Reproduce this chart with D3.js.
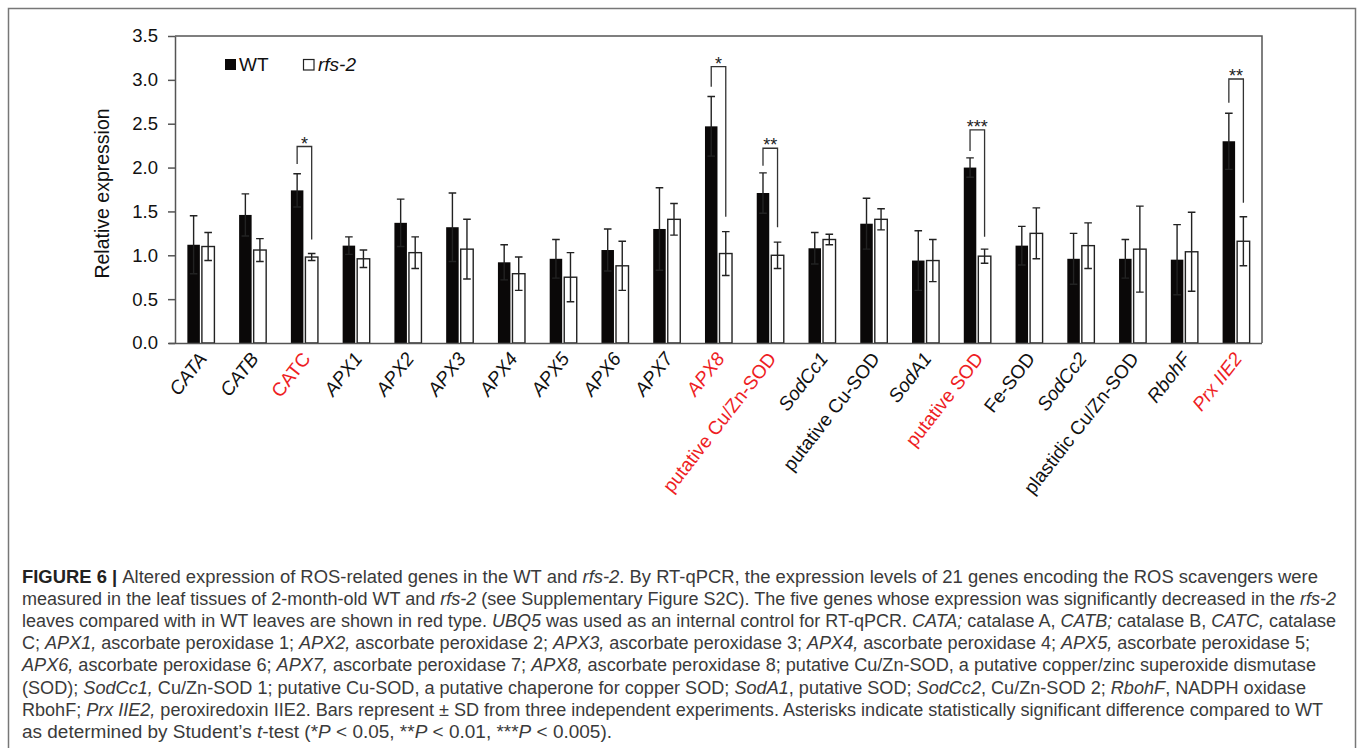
<!DOCTYPE html>
<html>
<head>
<meta charset="utf-8">
<script src="https://cdn.jsdelivr.net/npm/d3@7/dist/d3.min.js"></script>
<style>
  html, body { margin: 0; padding: 0; background: #fff; }
  svg { display: block; }
</style>
</head>
<body>
<svg id="chart" width="1357" height="748"></svg>
<script>
// ---------------- DATA ----------------
const categories = ["CATA","CATB","CATC","APX1","APX2","APX3","APX4","APX5","APX6","APX7","APX8",
  "putative Cu/Zn-SOD","SodCc1","putative Cu-SOD","SodA1","putative SOD","Fe-SOD","SodCc2",
  "plastidic Cu/Zn-SOD","RbohF","Prx IIE2"];
const italicLabels = [true,true,false,true,true,true,true,true,true,true,true,
  false,true,false,true,false,false,true,false,true,true];
const redLabels = ["CATC","APX8","putative Cu/Zn-SOD","putative SOD","Prx IIE2"];
const series = ["WT","rfs-2"];
const wtValues  = [1.12,1.46,1.74,1.11,1.37,1.32,0.92,0.96,1.06,1.30,2.47,1.71,1.08,1.36,0.94,2.00,1.11,0.96,0.96,0.95,2.30];
const wtSD      = [0.33,0.24,0.19,0.10,0.27,0.39,0.20,0.22,0.24,0.47,0.34,0.23,0.18,0.29,0.34,0.11,0.22,0.29,0.22,0.40,0.32];
const rfsValues = [1.10,1.06,0.98,0.96,1.03,1.07,0.79,0.75,0.88,1.41,1.02,1.00,1.18,1.41,0.94,0.99,1.25,1.11,1.07,1.04,1.16];
const rfsSD     = [0.16,0.13,0.04,0.10,0.18,0.34,0.19,0.28,0.28,0.18,0.25,0.15,0.06,0.12,0.24,0.08,0.29,0.26,0.49,0.45,0.28];
const yTicks = [0,0.5,1.0,1.5,2.0,2.5,3.0,3.5];
// significance brackets (values in data units)
const sigGenes  = ["CATC","APX8","putative Cu/Zn-SOD","putative SOD","Prx IIE2"];
const sigMarks  = ["*","*","**","***","**"];
const sigTop    = [2.24,3.15,2.22,2.43,3.01];
const sigLeftEnd  = [2.04,2.92,2.02,2.19,2.74];
const sigRightEnd = [1.18,1.44,1.32,1.21,1.60];

// ---------------- LAYOUT ----------------
const svg = d3.select("#chart");
const mLeft = 175, mRight = 1262, mTop = 36, mBottom = 343;
const axisColor = "#555";
const font = "'Liberation Sans', Arial, Helvetica, sans-serif";

// outer figure frame (open at the bottom)
svg.append("path")
  .attr("d", `M8.5,748 L8.5,8.5 L1355.5,8.5 L1355.5,748`)
  .attr("fill","none").attr("stroke","#777").attr("stroke-width",1.5);

const x = d3.scaleBand().domain(categories).range([mLeft, mRight]);
const x1 = d3.scaleBand().domain(series).range([0, x.bandwidth()]).paddingInner(0.14).paddingOuter(0.85);
const y = d3.scaleLinear().domain([0, 3.5]).range([mBottom, mTop]);

const rows = categories.map((c,i) => ({c, i, wt: wtValues[i], wtSD: wtSD[i], rfs: rfsValues[i], rfsSD: rfsSD[i]}));

// plot frame: top and right lines
svg.append("path")
  .attr("d", `M${mLeft},${mTop} L${mRight},${mTop} L${mRight},${mBottom}`)
  .attr("fill","none").attr("stroke",axisColor).attr("stroke-width",1.5);

// bars
const g = svg.append("g");
const groups = g.selectAll("g.cat").data(rows).join("g")
  .attr("class","cat").attr("transform", d => `translate(${x(d.c)},0)`);

function errBar(sel, key, sdKey, sname) {
  const cx = x1(sname) + x1.bandwidth()/2;
  const cap = 3.8;
  sel.append("path")
    .attr("d", d => {
      const yt = y(d[key] + d[sdKey]), yb = y(d[key] - d[sdKey]);
      return `M${cx},${yt} L${cx},${yb} M${cx-cap},${yt} L${cx+cap},${yt} M${cx-cap},${yb} L${cx+cap},${yb}`;
    })
    .attr("stroke","#222").attr("stroke-width",1.4).attr("fill","none");
}

groups.append("rect")
  .attr("x", x1("WT")).attr("width", x1.bandwidth())
  .attr("y", d => y(d.wt)).attr("height", d => y(0) - y(d.wt))
  .attr("fill","#0a0808");
groups.append("rect")
  .attr("x", x1("rfs-2")).attr("width", x1.bandwidth())
  .attr("y", d => y(d.rfs)).attr("height", d => y(0) - y(d.rfs))
  .attr("fill","#fff").attr("stroke","#222").attr("stroke-width",1.4);
errBar(groups, "wt", "wtSD", "WT");
errBar(groups, "rfs", "rfsSD", "rfs-2");

// y axis
const yAxis = d3.axisLeft(y).tickValues(yTicks).tickFormat(d3.format(".1f")).tickSize(7).tickSizeOuter(0).tickPadding(10);
const ya = svg.append("g").attr("transform", `translate(${mLeft},0)`).call(yAxis);
ya.select(".domain").attr("stroke", axisColor).attr("stroke-width",1.5);
ya.selectAll(".tick line").attr("stroke", axisColor).attr("stroke-width",1.5);
ya.selectAll(".tick text").attr("font-family", font).attr("font-size", 18.5).attr("fill","#111");

// x axis baseline
const xAxis = d3.axisBottom(x).tickSize(0).tickSizeOuter(0).tickFormat("");
const xa = svg.append("g").attr("transform", `translate(0,${mBottom})`).call(xAxis);
xa.select(".domain").attr("stroke", axisColor).attr("stroke-width",1.5).attr("d", `M${mLeft-6},0.5H${mRight}`);

// category labels
svg.append("g").selectAll("text").data(rows).join("text")
  .attr("transform", d => `translate(${x(d.c) + x.bandwidth()/2 + 7},${mBottom + 16}) rotate(-52)`)
  .attr("text-anchor","end")
  .attr("font-family", font).attr("font-size", 19)
  .attr("font-style", d => italicLabels[d.i] ? "italic" : "normal")
  .attr("fill", d => redLabels.includes(d.c) ? "#ee1d23" : "#111")
  .text(d => d.c);

// y axis title
svg.append("text")
  .attr("transform", `translate(109,${(mTop+mBottom)/2 + 4}) rotate(-90)`)
  .attr("text-anchor","middle")
  .attr("font-family", font).attr("font-size", 19.5).attr("fill","#111")
  .text("Relative expression");

// significance brackets
const sg = svg.append("g");
sigGenes.forEach((gname, k) => {
  const xl = x(gname) + x1("WT") + x1.bandwidth()/2;
  const xr = x(gname) + x1("rfs-2") + x1.bandwidth()/2;
  sg.append("path")
    .attr("d", `M${xl},${y(sigLeftEnd[k])} L${xl},${y(sigTop[k])} L${xr},${y(sigTop[k])} L${xr},${y(sigRightEnd[k])}`)
    .attr("fill","none").attr("stroke","#333").attr("stroke-width",1.3);
  sg.append("text")
    .attr("x", (xl+xr)/2).attr("y", y(sigTop[k]) + 3)
    .attr("text-anchor","middle")
    .attr("font-family", font).attr("font-size", 18).attr("fill","#222")
    .text(sigMarks[k]);
});

// legend
const lg = svg.append("g").attr("font-family", font).attr("font-size", 19).attr("fill","#111");
lg.append("rect").attr("x",225).attr("y",59).attr("width",11).attr("height",11).attr("fill","#0a0808");
lg.append("text").attr("x",239).attr("y",71).text("WT");
lg.append("rect").attr("x",303.5).attr("y",59.5).attr("width",10.5).attr("height",10.5).attr("fill","#fff").attr("stroke","#222").attr("stroke-width",1.2);
lg.append("text").attr("x",318).attr("y",71).attr("font-style","italic").text("rfs-2");

// ---------------- CAPTION ----------------
const B = s => ({t:s, b:true}), I = s => ({t:s, i:true}), N = s => ({t:s});
const captionLines = [
  [B("FIGURE 6 | "), N("Altered expression of ROS-related genes in the WT and "), I("rfs-2"), N(". By RT-qPCR, the expression levels of 21 genes encoding the ROS scavengers were")],
  [N("measured in the leaf tissues of 2-month-old WT and "), I("rfs-2"), N(" (see Supplementary Figure S2C). The five genes whose expression was significantly decreased in the "), I("rfs-2")],
  [N("leaves compared with in WT leaves are shown in red type. "), I("UBQ5"), N(" was used as an internal control for RT-qPCR. "), I("CATA;"), N(" catalase A, "), I("CATB;"), N(" catalase B, "), I("CATC,"), N(" catalase")],
  [N("C; "), I("APX1,"), N(" ascorbate peroxidase 1; "), I("APX2,"), N(" ascorbate peroxidase 2; "), I("APX3,"), N(" ascorbate peroxidase 3; "), I("APX4,"), N(" ascorbate peroxidase 4; "), I("APX5,"), N(" ascorbate peroxidase 5;")],
  [I("APX6,"), N(" ascorbate peroxidase 6; "), I("APX7,"), N(" ascorbate peroxidase 7; "), I("APX8,"), N(" ascorbate peroxidase 8; putative Cu/Zn-SOD, a putative copper/zinc superoxide dismutase")],
  [N("(SOD); "), I("SodCc1,"), N(" Cu/Zn-SOD 1; putative Cu-SOD, a putative chaperone for copper SOD; "), I("SodA1"), N(", putative SOD; "), I("SodCc2"), N(", Cu/Zn-SOD 2; "), I("RbohF"), N(", NADPH oxidase")],
  [N("RbohF; "), I("Prx IIE2,"), N(" peroxiredoxin IIE2. Bars represent \u00b1 SD from three independent experiments. Asterisks indicate statistically significant difference compared to WT")],
  [N("as determined by Student\u2019s "), I("t"), N("-test (*"), I("P"), N(" < 0.05, **"), I("P"), N(" < 0.01, ***"), I("P"), N(" < 0.005).")]
];
const captionWidths = [1296, 1314, 1314, 1288, 1294, 1284, 1301, 590];
const capG = svg.append("g").attr("font-family", "'Liberation Sans Narrow', 'Liberation Sans', Arial, sans-serif")
  .attr("font-size", 17.5).attr("fill","#3a3a3a");
captionLines.forEach((line, li) => {
  const t = capG.append("text").attr("x", 22).attr("y", 583 + li*22.1)
    .attr("textLength", captionWidths[li]).attr("lengthAdjust","spacingAndGlyphs")
    .style("white-space","pre");
  line.forEach(seg => {
    const ts = t.append("tspan").text(seg.t);
    if (seg.b) ts.attr("font-weight","bold").attr("fill","#222");
    if (seg.i) ts.attr("font-style","italic");
  });
});
</script>
</body>
</html>
